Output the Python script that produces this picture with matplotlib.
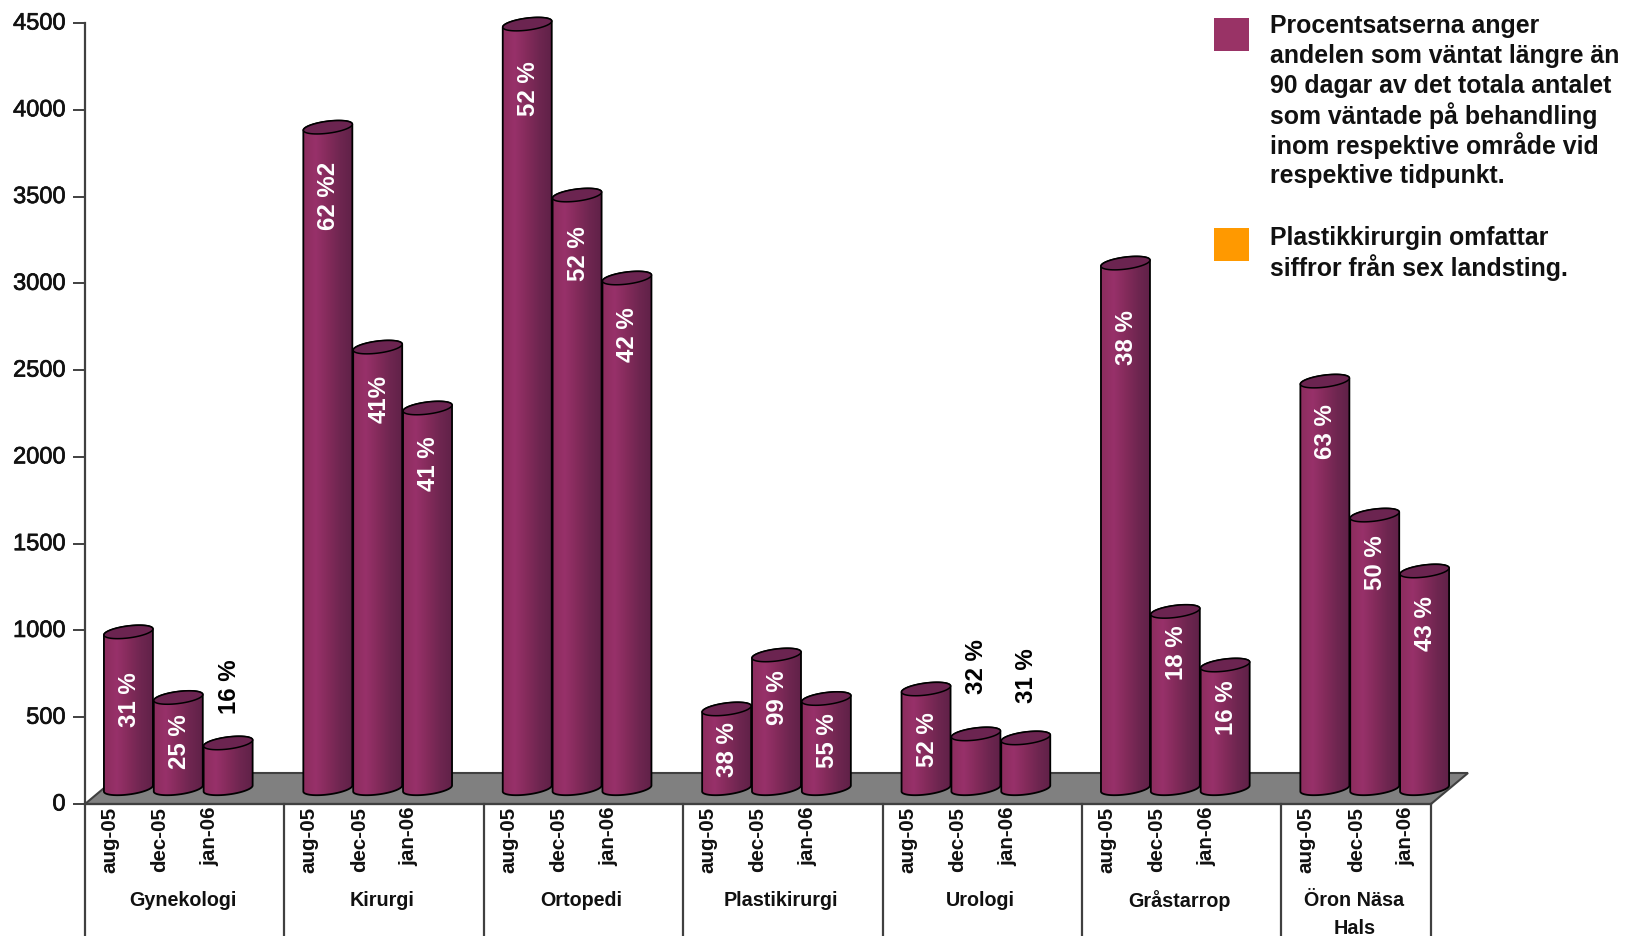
import numpy as np
import matplotlib
matplotlib.use("Agg")
import matplotlib.pyplot as plt
import matplotlib.patheffects as pe
from matplotlib.colors import LinearSegmentedColormap
from matplotlib.patches import Polygon, Rectangle
from matplotlib.transforms import ScaledTranslation

plt.rcParams['font.family'] = ['Liberation Sans', 'DejaVu Sans']

groups = ["Gynekologi", "Kirurgi", "Ortopedi", "Plastikirurgi", "Urologi", "Gråstarrop", "Öron Näsa\nHals"]
months = ["aug-05", "dec-05", "jan-06"]
values = [
    [902, 524, 262],
    [3810, 2543, 2192],
    [4404, 3419, 2941],
    [458, 769, 518],
    [573, 314, 291],
    [3027, 1020, 711],
    [2347, 1575, 1253],
]
pct_labels = [
    ["31 %", "25 %", "16 %"],
    ["62 %2", "41%", "41 %"],
    ["52 %", "52 %", "42 %"],
    ["38 %", "99 %", "55 %"],
    ["52 %", "32 %", "31 %"],
    ["38 %", "18 %", "16 %"],
    ["63 %", "50 %", "43 %"],
]
note1 = ["Procentsatserna anger", "andelen som väntat längre än", "90 dagar av det totala antalet",
         "som väntade på behandling", "inom respektive område vid", "respektive tidpunkt."]
note2 = ["Plastikkirurgin omfattar", "siffror från sex landsting."]

# how far below the bar top each label sits, pixels (they were moved by hand in the original)
label_drop = [
    [68, 44, -56],
    [69, 52, 56],
    [64, 59, 57],
    [41, 43, 42],
    [51, -67, -62],
    [74, 41, 43],
    [50, 47, 53],
]

W, H = 1625, 936
LEFT, RIGHT, BOTTOM, TOP = 85, 1431, 804, 23
DARK = "#404040"
n_cat = 27
PX_X = n_cat / (RIGHT - LEFT)
PX_Y = 4500 / (BOTTOM - TOP)
DEPTH_X, DEPTH_Y = 37 * PX_X, 31 * PX_Y

cmap = LinearSegmentedColormap.from_list("bar", ["#8c2d5e", "#98316a", "#842b5b", "#6e2650", "#602148"])
gradient = np.linspace(0, 1, 64).reshape(1, -1)
heavy = [pe.withStroke(linewidth=0.5, foreground="#111111")]


def ellipse(cx, cy, t):
    # slightly tilted ellipse, right side higher than the left like the original 3D view
    x = cx + 24.5 * PX_X * np.cos(t)
    y = cy + (6 * np.sin(t) + 3 * np.cos(t)) * PX_Y
    return np.column_stack([x, y])


def draw_cylinder(ax, cx, val):
    base = DEPTH_Y / 2
    top = val + base
    front = ellipse(cx, base, np.linspace(np.pi, 2 * np.pi, 40))
    back = ellipse(cx, top, np.linspace(0, np.pi, 40))
    body = Polygon(np.vstack([front, back]), closed=True, facecolor="none", edgecolor="black",
                   lw=1.3, zorder=4, clip_on=False)
    ax.add_patch(body)
    im = ax.imshow(gradient, cmap=cmap, aspect="auto", zorder=3,
                   extent=(cx - 0.5, cx + 0.5, 0, top + 60))
    im.set_clip_box(ax.figure.bbox)
    im.set_clip_path(body)
    cap = Polygon(ellipse(cx, top, np.linspace(0, 2 * np.pi, 60)), closed=True, facecolor="#6b2450",
                  edgecolor="black", lw=1.1, zorder=5, clip_on=False)
    ax.add_patch(cap)
    return top


fig = plt.figure(figsize=(W / 100, H / 100), dpi=100, facecolor="white")
ax = fig.add_axes([LEFT / W, 1 - BOTTOM / H, (RIGHT - LEFT) / W, (BOTTOM - TOP) / H])

for s in ax.spines.values():
    s.set_visible(False)

# floor
ax.add_patch(Polygon([(0, 0), (DEPTH_X, DEPTH_Y), (n_cat + DEPTH_X, DEPTH_Y), (n_cat, 0)], closed=True,
                     facecolor="#808080", edgecolor=DARK, lw=1.5, zorder=1, clip_on=False))

xticks, xlabels = [], []
for g, name in enumerate(groups):
    for b, month in enumerate(months):
        pos = g * 4 + b + 0.5
        xticks.append(pos)
        xlabels.append(month)
        cx = pos + DEPTH_X / 2
        top = draw_cylinder(ax, cx, values[g][b])
        drop = label_drop[g][b]
        ax.text(cx + 1 * PX_X, top - drop * PX_Y, pct_labels[g][b], rotation=90, ha="center", va="center",
                fontsize=17.3, fontweight="bold", color="white" if drop > 0 else "black", zorder=6)
    # group names, second line drawn on its own so the first stays in the row
    xc = (g * 4 + 2 if g < 6 else 25.5) - 2 * PX_X
    for i, part in enumerate(name.split("\n")):
        ax.text(xc, -(97 + i * 27) * PX_Y, part, ha="center", va="center", fontsize=14.2,
                fontweight="bold", color="#111111")

# axis lines running below the plot between the groups
below = -(H - BOTTOM) * PX_Y
for x in [0, 4, 8, 12, 16, 20, 24, 27]:
    ax.plot([x, x], [below, 0], color=DARK, lw=1.6, clip_on=False, zorder=2)
ax.plot([0, 0], [0, 4500], color=DARK, lw=1.6, clip_on=False, zorder=2)
ax.plot([0, n_cat], [0, 0], color=DARK, lw=1.6, clip_on=False, zorder=2)

ax.set_xlim(0, n_cat)
ax.set_ylim(0, 4500)
ax.patch.set_visible(False)
ax.set_yticks(np.arange(0, 4501, 500))
ax.tick_params(axis="y", length=9, width=1.4, color=DARK, labelsize=17, pad=5)
# the y labels sit a couple of pixels above their ticks in the original
nudge = ScaledTranslation(0, 2 / 100, fig.dpi_scale_trans)
for lab in ax.get_yticklabels():
    lab.set_color("#111111")
    lab.set_path_effects(heavy)
    lab.set_verticalalignment("center_baseline")
    lab.set_transform(lab.get_transform() + nudge)
ax.set_xticks(xticks)
ax.set_xticklabels(xlabels, rotation=90, fontsize=14.8, fontweight="bold", color="#111111")
ax.tick_params(axis="x", length=0, pad=2)
for lab in ax.get_xticklabels():
    lab.set_ha("center")
    lab.set_va("top")

# notes at the top right, figure pixel positions
px = fig.transFigure
def note(lines, y0, box_top, color):
    fig.add_artist(Rectangle((1214 / W, 1 - (box_top + 33) / H), 35 / W, 33 / H, transform=px, facecolor=color,
                             edgecolor="none"))
    for i, line in enumerate(lines):
        fig.text(1270 / W, 1 - (y0 + i * 29.9) / H, line, fontsize=17.9, fontweight="bold", va="center", ha="left",
                 color="#111111")

note(note1, 26, 18, "#993366")
note(note2, 238, 228, "#FF9900")

fig.savefig("out.png", dpi=100)
